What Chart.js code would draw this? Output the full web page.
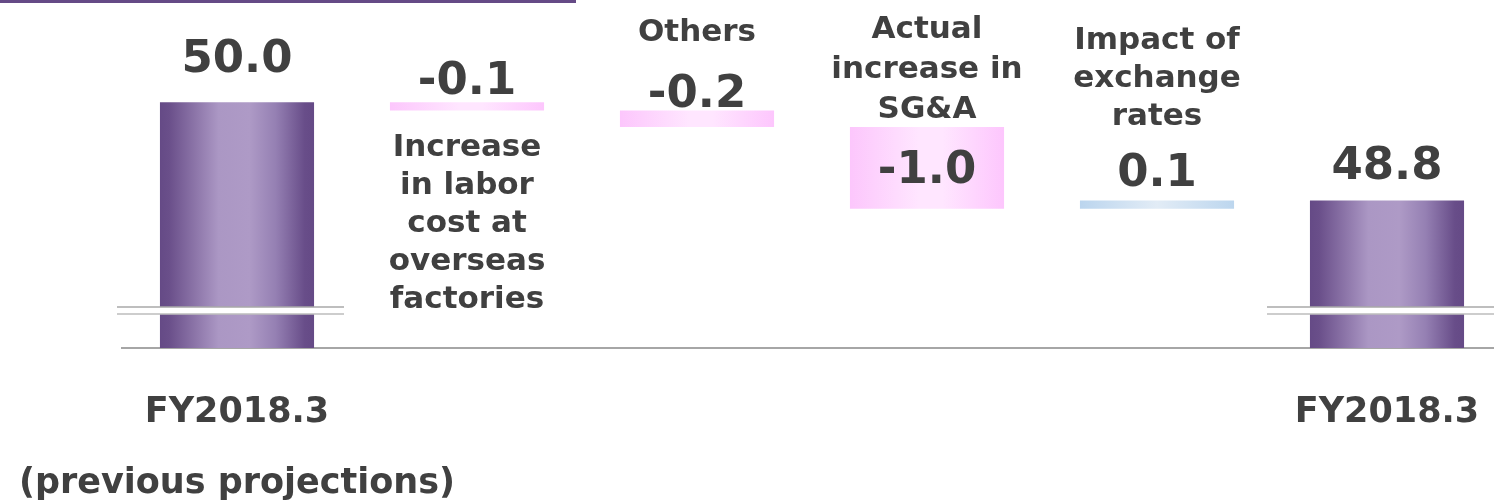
<!DOCTYPE html>
<html>
<head>
<meta charset="utf-8">
<script src="https://cdn.jsdelivr.net/npm/chart.js@4.4.1/dist/chart.umd.min.js"></script>
<style>
  html, body { margin: 0; padding: 0; background: #fff; overflow: hidden; }
  #wrap { position: relative; width: 1502px; height: 502px; }
  #topLine { position: absolute; left: 0; top: 0; width: 576px; height: 3px; background: #654a86; }
</style>
</head>
<body>
<div id="wrap"><canvas id="bridge"></canvas><div id="topLine"></div></div>
<script>
// data
const categories = [['FY2018.3', '(previous projections)'], '', '', '', '', 'FY2018.3'];
const itemNames = [[], ['Increase', 'in labor', 'cost at', 'overseas', 'factories'], ['Others'], ['Actual', 'increase in', 'SG&A'], ['Impact of', 'exchange', 'rates'], []];
const changes = [50.0, -0.1, -0.2, -1.0, 0.1, 48.8];
const barKinds = ['total', 'change', 'change', 'change', 'change', 'total'];
const valueLabels = ['50.0', '-0.1', '-0.2', '-1.0', '0.1', '48.8'];
const axisMin = 47.0;
const axisMax = 51.25;
const breakAt = 47.5;

// waterfall pieces
let run = 0;
const floating = changes.map((v, i) => {
  if (barKinds[i] === 'total') { run = v; return [axisMin, v]; }
  const start = run;
  run = +(run + v).toFixed(1);
  return [Math.min(start, run), Math.max(start, run)];
});

// label placement (style only)
const valueGap = [42, 20, 15, null, 26, 33];
const namePlace = [null, { side: 'below', gap: 37, lh: 38 }, { side: 'above', gap: 78, lh: 40 },
  { side: 'above', gap: 17, lh: 40 }, { side: 'above', gap: 84, lh: 38 }, null];

const BAR_PCT = 0.67;
const TEXT = '#404040';
const FONT = '"DejaVu Sans", Verdana, sans-serif';

function barFill(ctx) {
  const chart = ctx.chart;
  const xs = chart.scales.x;
  if (!chart.chartArea || !xs || ctx.dataIndex == null) return '#9a86b8';
  const i = ctx.dataIndex;
  const c = xs.getPixelForValue(i);
  const half = xs.width / categories.length * BAR_PCT / 2;
  const g = chart.ctx.createLinearGradient(c - half, 0, c + half, 0);
  if (barKinds[i] === 'total') {
    g.addColorStop(0, '#654a86');
    g.addColorStop(0.06, '#6a4f8a');
    g.addColorStop(0.38, '#ab97c4');
    g.addColorStop(0.58, '#ae9ac6');
    g.addColorStop(0.75, '#9580b3');
    g.addColorStop(0.94, '#684d89');
    g.addColorStop(1, '#654a86');
  } else if (changes[i] < 0) {
    g.addColorStop(0, '#fcc6fc');
    g.addColorStop(0.45, '#ffe6ff');
    g.addColorStop(0.6, '#ffe6ff');
    g.addColorStop(1, '#fdc6fd');
  } else {
    g.addColorStop(0, '#bbd5ee');
    g.addColorStop(0.5, '#e2ecf6');
    g.addColorStop(1, '#bcd6ee');
  }
  return g;
}

const breakMarks = {
  id: 'breakMarks',
  afterDatasetsDraw(chart) {
    const ctx = chart.ctx;
    const xs = chart.scales.x, ys = chart.scales.y;
    const y = ys.getPixelForValue(breakAt);
    barKinds.forEach((k, i) => {
      if (k !== 'total') return;
      const c = xs.getPixelForValue(i);
      const l = c - 120, r = c + 107;
      ctx.save();
      ctx.fillStyle = '#fff';
      ctx.fillRect(l, y, r - l, 7);
      ctx.lineWidth = 1.5;
      ctx.strokeStyle = '#a8a8a8';
      ctx.beginPath(); ctx.moveTo(l, y); ctx.lineTo(r, y); ctx.stroke();
      ctx.strokeStyle = '#bdbdbd';
      ctx.beginPath(); ctx.moveTo(l, y + 7); ctx.lineTo(r, y + 7); ctx.stroke();
      ctx.restore();
    });
  }
};

const barLabels = {
  id: 'barLabels',
  afterDraw(chart) {
    const ctx = chart.ctx;
    const meta = chart.getDatasetMeta(0);
    ctx.save();
    ctx.fillStyle = TEXT;
    ctx.textAlign = 'center';
    ctx.textBaseline = 'middle';
    meta.data.forEach((el, i) => {
      const top = Math.min(el.y, el.base);
      const bottom = Math.max(el.y, el.base);
      ctx.font = 'bold 45px ' + FONT;
      const vy = valueGap[i] == null ? (top + bottom) / 2 + 3 : top - valueGap[i];
      ctx.fillText(valueLabels[i], el.x, vy);

      const p = namePlace[i];
      const lines = itemNames[i];
      if (!p || !lines.length) return;
      ctx.font = 'bold 31px ' + FONT;
      lines.forEach((t, j) => {
        const ly = p.side === 'below'
          ? bottom + p.gap + j * p.lh
          : top - p.gap - (lines.length - 1 - j) * p.lh;
        ctx.fillText(t, el.x, ly);
      });
    });
    ctx.restore();
  }
};

new Chart(document.getElementById('bridge'), {
  type: 'bar',
  data: {
    labels: categories,
    datasets: [{
      data: floating,
      backgroundColor: barFill,
      borderWidth: 0,
      categoryPercentage: 1,
      barPercentage: BAR_PCT
    }]
  },
  options: {
    responsive: true,
    maintainAspectRatio: false,
    animation: false,
    layout: { padding: { left: 122, top: 0, right: 0, bottom: 0 } },
    plugins: {
      legend: { display: false },
      tooltip: { enabled: false }
    },
    scales: {
      x: {
        grid: { display: false, drawTicks: false },
        border: { display: true, color: '#a6a6a6', width: 2 },
        ticks: {
          color: TEXT,
          padding: 29,
          maxRotation: 0,
          autoSkip: false,
          font: { family: FONT, size: 35, weight: 'bold', lineHeight: 2.03 }
        },
        afterFit(scale) {
          scale.height = 154;
          scale.paddingLeft = 0;
          scale.paddingRight = 0;
        }
      },
      y: {
        display: false,
        min: axisMin,
        max: axisMax
      }
    }
  },
  plugins: [breakMarks, barLabels]
});
</script>
</body>
</html>
